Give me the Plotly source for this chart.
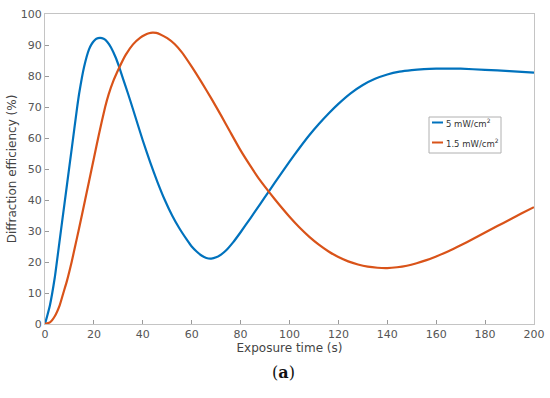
import plotly.graph_objects as go

# Blue series: 5 mW/cm^2
t_blue = [0, 2, 4, 6, 8, 10, 12, 13, 14, 16, 18, 19, 20, 21, 22.5, 24, 25.5, 27, 29, 30.3, 32, 34, 35.7,
          38, 40, 43, 46, 49, 52, 55, 58, 60, 62, 64, 66, 68, 70, 72, 74, 77, 80, 84, 88, 92,
          96, 100, 104, 108, 112, 116, 120, 125, 130, 135, 140, 145, 150, 155, 160, 165, 170, 180, 190, 200]
v_blue = [0, 6, 15, 27, 39, 51, 63, 69, 74.5, 83, 88.6, 90.2, 91.3, 92.0, 92.3, 92.0, 91.0, 89.2, 85.8, 83.0, 78.9, 74.2, 70,
          64.2, 59.2, 52.2, 45.8, 40.0, 35.0, 30.8, 27.2, 25.0, 23.4, 22.1, 21.3, 21.1, 21.5, 22.4, 23.7, 26.4, 29.6, 34.1, 38.7, 43.3,
          47.9, 52.4, 56.7, 60.8, 64.5, 67.9, 71.0, 74.4, 77.1, 79.1, 80.5, 81.4, 81.9, 82.2, 82.35, 82.4, 82.35, 82.0, 81.6, 81.1]

# Orange series: 1.5 mW/cm^2
t_orange = [0, 2, 4, 6, 7.5, 9, 10.9, 12.3, 13.7, 16.4, 18, 20, 22, 24.6, 26, 28, 30.3, 33, 36, 39,
            41, 42.5, 44, 45.5, 47, 50, 53, 56, 60, 64, 68, 72, 76, 80, 84, 88, 92, 96, 100, 104, 108, 112,
            116, 120, 124, 128, 132, 136, 140, 144, 148, 152, 156, 160, 165, 170, 175, 180, 185, 190, 195, 200]
v_orange = [0, 0.5, 2.5, 6, 10, 14, 20, 25, 30, 40, 46, 53.5, 61, 70, 74, 78.5, 82.6, 86.8, 90.2, 92.4,
            93.3, 93.8, 94, 93.9, 93.5, 92.2, 90.3, 87.6, 83, 78, 72.8, 67.3, 61.6, 56, 51, 46.3, 42.2, 38.3, 34.6, 31.2, 28.2, 25.6,
            23.4, 21.6, 20.2, 19.2, 18.5, 18.15, 18.05, 18.3, 18.8, 19.6, 20.6, 21.8, 23.5, 25.4, 27.4, 29.5, 31.6, 33.6, 35.7, 37.7]

x_ticks = list(range(0, 201, 20))
y_ticks = list(range(0, 101, 10))

series_names = ["5 mW/cm<sup>2</sup>", "1.5 mW/cm<sup>2</sup>"]
colors = ["#0072BD", "#D95319"]

fig = go.Figure()
fig.add_trace(go.Scatter(x=t_blue, y=v_blue, mode="lines", name=series_names[0],
                         line=dict(color=colors[0], width=2.2, shape="spline", smoothing=0.5),
                         showlegend=False))
fig.add_trace(go.Scatter(x=t_orange, y=v_orange, mode="lines", name=series_names[1],
                         line=dict(color=colors[1], width=2.2, shape="spline", smoothing=0.5),
                         showlegend=False))

W, H = 550, 398
L, R, T, B = 45, 16, 14, 74
pw, ph = W - L - R, H - T - B

def px(x):
    return (x - L) / pw

def py(y):
    return (H - B - y) / ph

axis_common = dict(
    showgrid=False, zeroline=False, showline=True, linecolor="#c4c4c4", linewidth=1,
    mirror=True, ticks="inside", ticklen=4, tickcolor="#9a9a9a", automargin=False,
    tickfont=dict(family="DejaVu Sans", size=11, color="#555555"),
)

fig.update_layout(
    width=W, height=H,
    margin=dict(l=L, r=R, t=T, b=B),
    paper_bgcolor="white", plot_bgcolor="white",
    xaxis=dict(range=[0, 200], tickvals=x_ticks,
               title=dict(text="Exposure time (s)", standoff=2,
                          font=dict(family="DejaVu Sans", size=12, color="#444444")),
               **axis_common),
    yaxis=dict(range=[0, 100], tickvals=y_ticks,
               title=dict(text="Diffraction efficiency (%)", standoff=1,
                          font=dict(family="DejaVu Sans", size=12, color="#444444")),
               **axis_common),
)

# Legend box (drawn manually to match the compact original)
bx0, bx1, by0, by1 = 429, 501, 117, 153
fig.add_shape(type="rect", xref="paper", yref="paper",
              x0=px(bx0), x1=px(bx1), y0=py(by1), y1=py(by0),
              line=dict(color="#b0b0b0", width=1), fillcolor="white")
for i, (yy, name) in enumerate([(122.5, series_names[0]), (142.5, series_names[1])]):
    fig.add_shape(type="line", xref="paper", yref="paper",
                  x0=px(432), x1=px(443), y0=py(yy), y1=py(yy),
                  line=dict(color=colors[i], width=2))
    fig.add_annotation(xref="paper", yref="paper", x=px(444), y=py(yy),
                       text=name, showarrow=False, xanchor="left", yanchor="middle",
                       font=dict(family="DejaVu Sans", size=8.5, color="#333333"))

# Caption
fig.add_annotation(xref="paper", yref="paper", x=px(283), y=py(372),
                   text="(<b>a</b>)", showarrow=False, xanchor="center", yanchor="middle",
                   font=dict(family="DejaVu Serif", size=16, color="#111111"))

fig.write_html("out.html", post_script="document.body.style.margin='0px';",
               config={"displayModeBar": False})
